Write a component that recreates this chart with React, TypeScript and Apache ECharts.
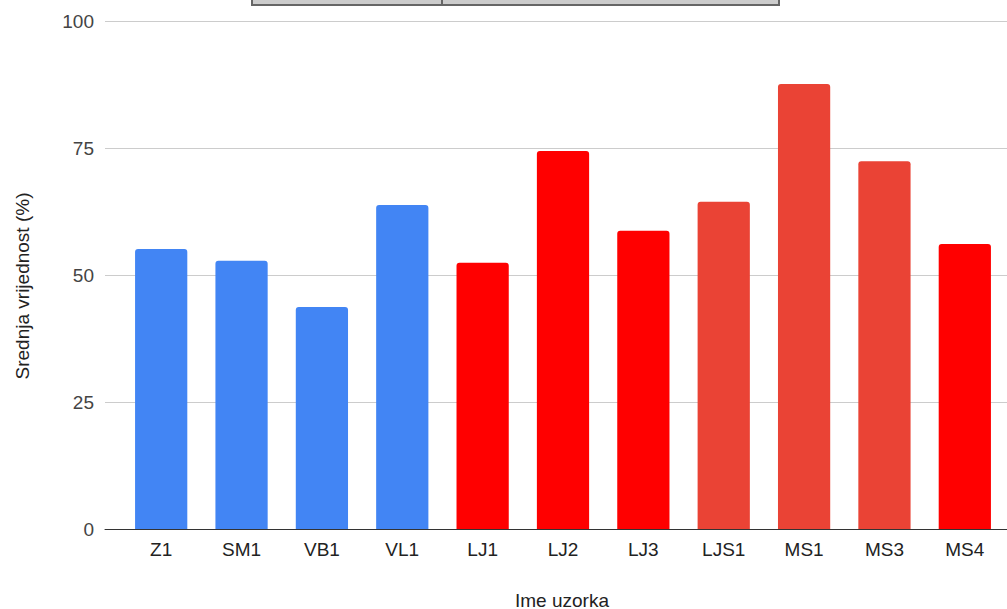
import React, { useEffect, useRef } from "react";
import * as echarts from "echarts";

const categories = ["Z1", "SM1", "VB1", "VL1", "LJ1", "LJ2", "LJ3", "LJS1", "MS1", "MS3", "MS4"];
const values = [55.1, 52.8, 43.7, 63.8, 52.4, 74.4, 58.7, 64.4, 87.6, 72.4, 56.1];
const groups = ["blue", "blue", "blue", "blue", "red", "red", "red", "coral", "coral", "coral", "red"];
const yTicks = [0, 25, 50, 75, 100];
const xTitle = "Ime uzorka";
const yTitle = "Srednja vrijednost (%)";
const palette: Record<string, string> = { blue: "#4285f4", red: "#ff0000", coral: "#ea4335" };

export default function App() {
  const ref = useRef<HTMLDivElement>(null);
  useEffect(() => {
    if (!ref.current) return;
    const chart = echarts.init(ref.current, null, { renderer: "svg" });
    const font = "Liberation Sans, Arial, sans-serif";
    chart.setOption({
      animation: false,
      backgroundColor: "#ffffff",
      textStyle: { fontFamily: font },
      grid: [
        { left: 105, right: 0, top: 21, bottom: 80 },
        { left: 121, right: 2, top: 21, bottom: 80 },
      ],
      xAxis: [
        {
          gridIndex: 0,
          type: "category",
          data: [""],
          axisLine: { show: true, lineStyle: { color: "#333333", width: 1 } },
          axisTick: { show: false },
          axisLabel: { show: false },
        },
        {
          gridIndex: 1,
          type: "category",
          data: categories,
          axisLine: { show: false },
          axisTick: { show: false },
          axisLabel: { color: "#222222", fontSize: 19, margin: 11, fontFamily: font },
        },
      ],
      yAxis: [
        {
          gridIndex: 0,
          type: "value",
          min: yTicks[0],
          max: yTicks[yTicks.length - 1],
          interval: 25,
          axisLine: { show: false },
          axisTick: { show: false },
          axisLabel: { color: "#444444", fontSize: 19, margin: 11, fontFamily: font },
          splitLine: { lineStyle: { color: "#cccccc", width: 1 } },
        },
        {
          gridIndex: 1,
          type: "value",
          min: yTicks[0],
          max: yTicks[yTicks.length - 1],
          show: false,
          splitLine: { show: false },
        },
      ],
      graphic: [
        {
          type: "rect",
          shape: { x: 252, y: -5, width: 527, height: 10 },
          style: { fill: "#cccccc", stroke: "#666666", lineWidth: 2 },
        },
        {
          type: "line",
          shape: { x1: 442, y1: -5, x2: 442, y2: 5 },
          style: { stroke: "#666666", lineWidth: 2 },
        },
        {
          type: "text",
          x: 22,
          y: 286,
          rotation: Math.PI / 2,
          style: {
            text: yTitle,
            fill: "#222222",
            fontSize: 19,
            fontFamily: font,
            align: "center",
            verticalAlign: "middle",
          },
        },
        {
          type: "text",
          x: 562,
          y: 600,
          style: {
            text: xTitle,
            fill: "#222222",
            fontSize: 19,
            fontFamily: font,
            align: "center",
            verticalAlign: "middle",
          },
        },
      ],
      series: [
        {
          type: "bar",
          xAxisIndex: 1,
          yAxisIndex: 1,
          barWidth: "65%",
          z: 3,
          data: values.map((v, i) => ({
            value: v,
            itemStyle: { color: palette[groups[i]], borderRadius: [3, 3, 0, 0] },
          })),
        },
      ],
    });
    return () => chart.dispose();
  }, []);
  return (
    <div
      ref={ref}
      style={{ position: "absolute", left: 0, top: 0, width: 1007, height: 609 }}
    />
  );
}
